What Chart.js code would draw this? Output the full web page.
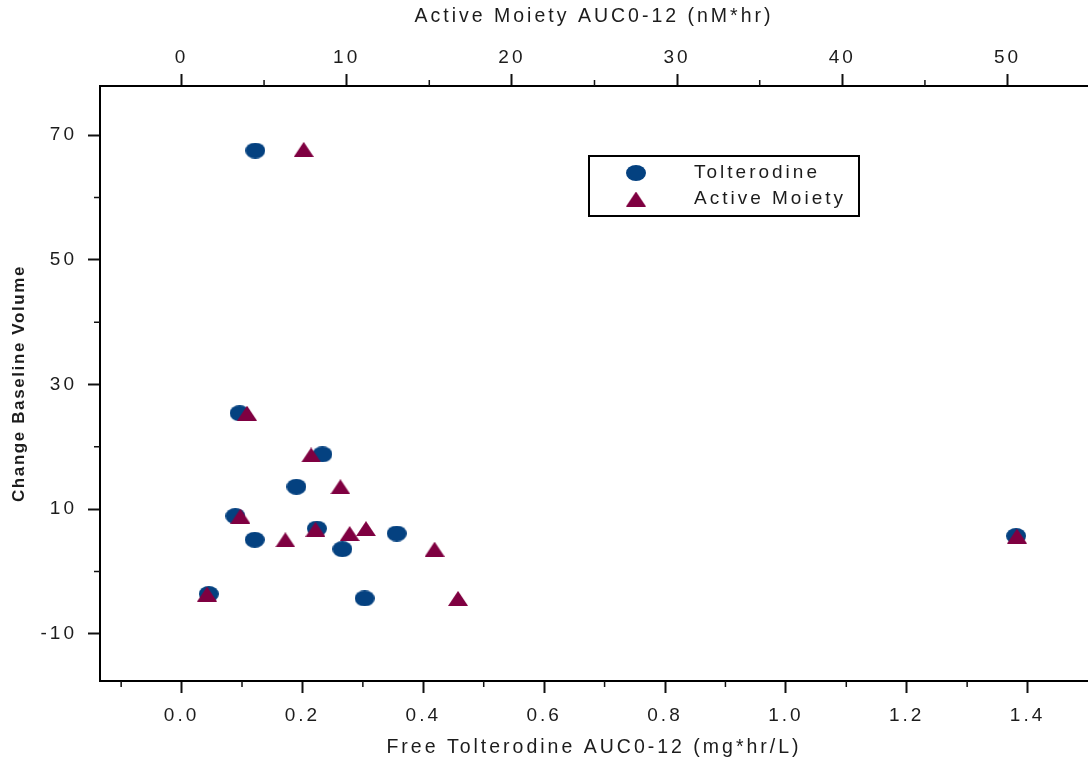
<!DOCTYPE html>
<html>
<head>
<meta charset="utf-8">
<script src="https://cdn.jsdelivr.net/npm/chart.js@4.4.1/dist/chart.umd.min.js"></script>
<style>
  body { margin: 0; background: #fff; }
  #wrap { width: 1088px; height: 765px; overflow: hidden; }
</style>
</head>
<body>
<div id="wrap"><canvas id="auc-chart" width="1088" height="765"></canvas></div>

<script>
    // Free tolterodine exposure (bottom axis) vs change in baseline volume
    const tolterodineAuc = [0.122, 0.096, 0.233, 0.190, 0.089, 0.224, 0.121, 0.356, 0.266, 0.045, 0.303, 1.381];
    const tolterodineChange = [67.5, 25.4, 18.8, 13.6, 8.9, 6.9, 5.1, 6.1, 3.6, -3.6, -4.3, 5.7];

    // Active moiety exposure (top axis) vs change in baseline volume
    const moietyAuc = [7.40, 3.97, 7.85, 9.62, 3.57, 8.11, 6.29, 10.18, 11.17, 15.32, 1.55, 16.74, 50.57];
    const moietyChange = [67.7, 25.4, 18.7, 13.6, 8.9, 6.8, 5.1, 6.1, 6.9, 3.6, -3.6, -4.3, 5.7];

    // tick values
    const freeMajorTicks = [0, 0.2, 0.4, 0.6, 0.8, 1.0, 1.2, 1.4];
    const freeMinorTicks = [-0.1, 0.1, 0.3, 0.5, 0.7, 0.9, 1.1, 1.3];
    const moietyMajorTicks = [0, 10, 20, 30, 40, 50];
    const moietyMinorTicks = [5, 15, 25, 35, 45];
    const changeMajorTicks = [70, 50, 30, 10, -10];
    const changeMinorTicks = [60, 40, 20, 0];

    const FONT = '"Liberation Sans", Arial, sans-serif';
    const FONT_SIZE = 19;
    const TITLE_SIZE = 19.5;
    const TEXT_COLOR = '#1c1c1c';
    const TEXT_SPACING = '3px';
    const NAVY = '#044180';
    const MAROON = '#7f0041';

    function ellipseMarker(w, h, color) {
        const c = document.createElement('canvas');
        c.width = w; c.height = h;
        const g = c.getContext('2d');
        g.fillStyle = color;
        g.beginPath();
        g.ellipse(w / 2, h / 2, w / 2, h / 2, 0, 0, Math.PI * 2);
        g.fill();
        return c;
    }

    function triangleMarker(w, h, color) {
        const c = document.createElement('canvas');
        c.width = w; c.height = h;
        const g = c.getContext('2d');
        g.fillStyle = color;
        g.beginPath();
        g.moveTo(w / 2, 0);
        g.lineTo(w, h);
        g.lineTo(0, h);
        g.closePath();
        g.fill();
        return c;
    }

    const circleImg = ellipseMarker(20, 16, NAVY);
    const triangleImg = triangleMarker(20, 15, MAROON);

    const toPoints = (xs, ys) => xs.map((x, i) => ({x: x, y: ys[i]}));

    // canvas text in this chart is drawn letter-spaced
    const letterSpacing = {
        id: 'letterSpacing',
        beforeLayout(chart) { chart.ctx.letterSpacing = TEXT_SPACING; },
        beforeDraw(chart) { chart.ctx.letterSpacing = TEXT_SPACING; }
    };

    // short unlabeled ticks between the labelled ones
    const minorTicks = {
        id: 'minorTicks',
        afterDraw(chart) {
            const ctx = chart.ctx;
            const len = 6;
            ctx.save();
            ctx.strokeStyle = '#111';
            ctx.lineWidth = 1.5;
            ctx.beginPath();
            const xs = chart.scales.x;
            freeMinorTicks.forEach(v => {
                const p = xs.getPixelForValue(v);
                ctx.moveTo(p, xs.top); ctx.lineTo(p, xs.top + len);
            });
            const xt = chart.scales.x2;
            moietyMinorTicks.forEach(v => {
                const p = xt.getPixelForValue(v);
                ctx.moveTo(p, xt.bottom); ctx.lineTo(p, xt.bottom - len);
            });
            const ys = chart.scales.y;
            changeMinorTicks.forEach(v => {
                const p = ys.getPixelForValue(v);
                ctx.moveTo(ys.right, p); ctx.lineTo(ys.right - len, p);
            });
            ctx.stroke();
            ctx.restore();
        }
    };

    // rotated y title, bold and less spaced than the other text
    const yTitle = {
        id: 'yTitle',
        afterDraw(chart) {
            const ctx = chart.ctx;
            const area = chart.chartArea;
            ctx.save();
            ctx.letterSpacing = '1.6px';
            ctx.font = 'bold 17px ' + FONT;
            ctx.fillStyle = TEXT_COLOR;
            ctx.translate(19, (area.top + area.bottom) / 2);
            ctx.rotate(-Math.PI / 2);
            ctx.textAlign = 'center';
            ctx.textBaseline = 'middle';
            ctx.fillText('Change Baseline Volume', 0, 0);
            ctx.restore();
        }
    };

    // boxed legend inside the plot
    const boxLegend = {
        id: 'boxLegend',
        afterDraw(chart) {
            const ctx = chart.ctx;
            const box = {left: 589, top: 156, width: 270, height: 60};
            ctx.save();
            ctx.strokeStyle = '#000';
            ctx.lineWidth = 2;
            ctx.strokeRect(box.left, box.top, box.width, box.height);
            ctx.letterSpacing = TEXT_SPACING;
            ctx.font = FONT_SIZE + 'px ' + FONT;
            ctx.fillStyle = TEXT_COLOR;
            ctx.textBaseline = 'middle';
            const rows = [
                {img: circleImg, text: chart.data.datasets[0].label, y: box.top + 17},
                {img: triangleImg, text: chart.data.datasets[1].label, y: box.top + 43}
            ];
            rows.forEach(r => {
                ctx.drawImage(r.img, 636 - r.img.width / 2, r.y - r.img.height / 2);
                ctx.fillText(r.text, 694, r.y);
            });
            ctx.restore();
        }
    };

    const axisBase = (ticks, tickLength, padding) => ({
        type: 'linear',
        afterBuildTicks: s => { s.ticks = ticks.map(v => ({value: v})); },
        grid: {display: true, drawOnChartArea: false, drawTicks: true, tickLength: tickLength, tickWidth: 2, tickColor: '#111'},
        border: {display: true, color: '#000', width: 2},
        ticks: {autoSkip: false, maxRotation: 0, padding: padding, color: TEXT_COLOR, font: {family: FONT, size: FONT_SIZE}}
    });

    const xBottom = axisBase(freeMajorTicks, 12, 11);
    Object.assign(xBottom, {position: 'bottom', min: -0.135, max: 1.5,
        afterFit: s => { s.height = 84; },
        title: {display: true, text: 'Free Tolterodine AUC0-12 (mg*hr/L)', color: TEXT_COLOR,
            font: {family: FONT, size: TITLE_SIZE}, padding: {top: 0, bottom: 6}}});
    xBottom.ticks.callback = v => v.toFixed(1);

    const xTop = axisBase(moietyMajorTicks, 12, 5);
    Object.assign(xTop, {position: 'top', min: -4.93, max: 54.87,
        afterFit: s => { s.height = 86; },
        title: {display: true, text: 'Active Moiety AUC0-12 (nM*hr)', color: TEXT_COLOR,
            font: {family: FONT, size: TITLE_SIZE}, padding: {top: 5, bottom: 0}}});
    xTop.ticks.callback = v => String(v);

    const yLeft = axisBase(changeMajorTicks, 12, 11);
    Object.assign(yLeft, {position: 'left', min: -17.54, max: 77.86,
        afterFit: s => { s.width = 100; }});
    yLeft.ticks.callback = v => String(v);

    new Chart(document.getElementById('auc-chart').getContext('2d'), {
        type: 'scatter',
        data: {
            datasets: [
                {
                    label: 'Tolterodine',
                    data: toPoints(tolterodineAuc, tolterodineChange),
                    xAxisID: 'x',
                    yAxisID: 'y',
                    pointStyle: circleImg,
                    order: 1
                },
                {
                    label: 'Active Moiety',
                    data: toPoints(moietyAuc, moietyChange),
                    xAxisID: 'x2',
                    yAxisID: 'y',
                    pointStyle: triangleImg,
                    order: 0
                }
            ]
        },
        options: {
            responsive: false,
            animation: false,
            devicePixelRatio: 1,
            layout: {padding: 0, autoPadding: false},
            scales: {x: xBottom, x2: xTop, y: yLeft},
            plugins: {
                legend: {display: false},
                tooltip: {enabled: false}
            }
        },
        plugins: [letterSpacing, minorTicks, yTitle, boxLegend]
    });
</script>
</body>
</html>
